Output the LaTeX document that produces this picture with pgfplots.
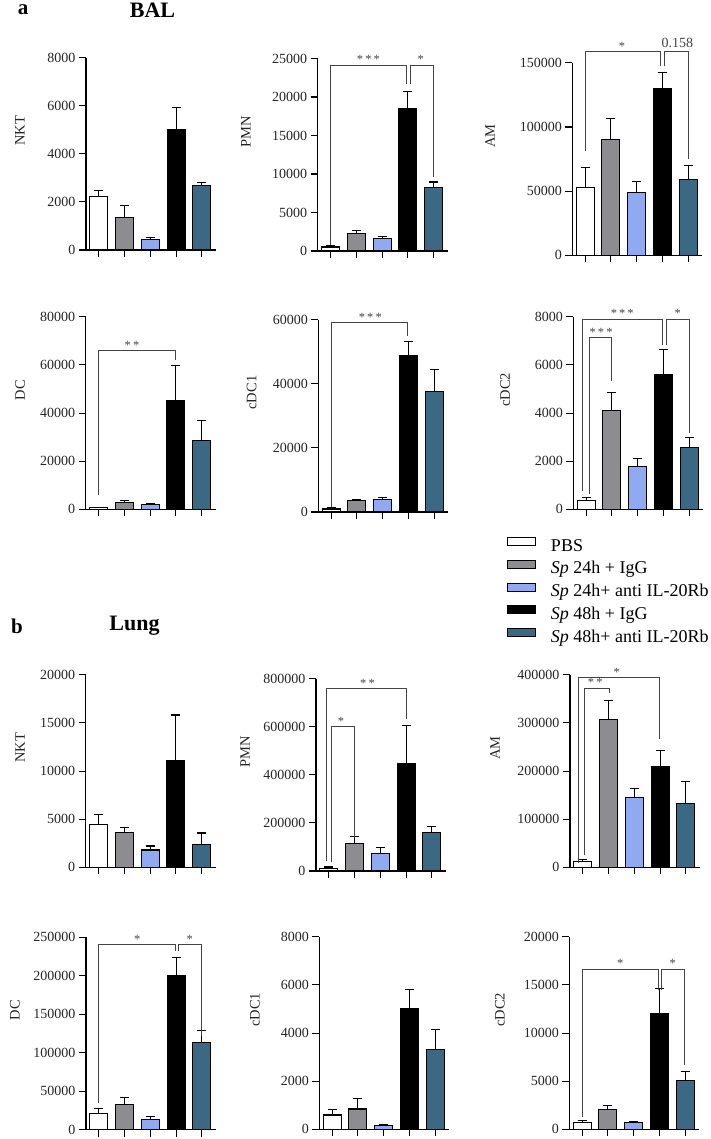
\documentclass[border=0pt]{standalone}
\usepackage{pgfplots}
\pgfplotsset{compat=1.18}
\usepackage{fontspec}
\setmainfont{Liberation Serif}

\definecolor{cgray}{HTML}{8C8C91}
\definecolor{cblue}{HTML}{8FAAF0}
\definecolor{cteal}{HTML}{3B6882}
\definecolor{cline}{HTML}{444444}

\pgfplotsset{
  bb/.style={ybar, bar width=18pt, draw=black, line width=1.1pt, fill=#1,
    error bars/y dir=plus, error bars/y explicit,
    error bars/error bar style={line width=1.1pt, black},
    error bars/error mark options={rotate=90, line width=1.1pt, black, mark size=4.5pt},
    legend image code/.code={\draw[line width=1pt, draw=black, fill=#1] (0pt,1.5pt) rectangle (28pt,9.5pt); \path (43pt,0pt);}},
  b0/.style={bb=white}, b1/.style={bb=cgray}, b2/.style={bb=cblue},
  b3/.style={bb=black}, b4/.style={bb=cteal},
  ax/.style={scale only axis, width=130pt, height=192.5pt, anchor=south west,
    xmin=-0.5, xmax=4.55, ymin=0, clip=false,
    axis x line*=bottom, axis y line*=left,
    xtick={0,...,4}, xticklabels={},
    tick align=outside, major tick length=7pt,
    every tick/.style={black, line width=1.1pt},
    axis line style={line width=1.1pt, black},
    ticklabel style={font=\fontsize{14}{16}\selectfont, text=black!85},
    scaled y ticks=false,
    yticklabel style={/pgf/number format/fixed, /pgf/number format/1000 sep={}},
    /pgf/number format/assume math mode=true,
    ylabel style={font=\fontsize{14.5}{16}\selectfont, text=black!85, anchor=center}},
  pn/.style n args={4}{ymax=#1, ytick distance=#2, ylabel={#3},
    ylabel style={at={(axis description cs:#4,0.62)}}},
}
\tikzset{
  brk/.style={draw=cline, line width=0.9pt},
  stars/.style={anchor=base, yshift=1.5pt, text=cline, font=\fontsize{12.5}{14}\selectfont},
}

\newcommand\bb[4]{\addplot[#1] coordinates {(#2,#3) +- (0,#4)};}
\newcommand\br[5]{\draw[brk] (#1,#2)--(#1,#5)--(#3,#5)--(#3,#4);}
\newcommand\st[3]{\node[stars] at (#1,#2) {#3};}

\begin{document}
\begin{tikzpicture}
\path[use as bounding box] (0pt,0pt) rectangle (711pt,-1139pt);

\node[anchor=base, font=\bfseries\fontsize{21}{24}\selectfont] at (23pt,-15pt) {a};
\node[anchor=base, font=\bfseries\fontsize{22}{24}\selectfont] at (152.5pt,-18pt) {BAL};
\node[anchor=base, font=\bfseries\fontsize{21}{24}\selectfont] at (17pt,-633pt) {b};
\node[anchor=base, font=\bfseries\fontsize{22}{24}\selectfont] at (134.5pt,-630pt) {Lung};

% ---- BAL, row 1
\begin{axis}[ax, at={(86pt,-250pt)}, pn={8000}{2000}{NKT}{-0.508}]
\bb{b0}{0}{2234}{233}
\bb{b1}{1}{1360}{483}
\bb{b2}{2}{429}{83}
\bb{b3}{3}{5005}{931}
\bb{b4}{4}{2662}{154}
\end{axis}

\begin{axis}[ax, at={(317.7pt,-251pt)}, pn={25000}{5000}{PMN}{-0.552}]
\bb{b0}{0}{517}{173}
\bb{b1}{1}{2240}{430}
\bb{b2}{2}{1590}{260}
\bb{b3}{3}{18494}{2236}
\bb{b4}{4}{8240}{720}
\br{0}{776}{2.96}{21690}{24150}
\br{3.09}{21690}{4.01}{9610}{24150}
\st{1.47}{24150}{*\,*\,*}
\st{3.5}{24150}{*}
\end{axis}

\begin{axis}[ax, at={(572.3pt,-255.3pt)}, pn={150000}{50000}{AM}{-0.633}]
\bb{b0}{0}{52800}{15600}
\bb{b1}{1}{90300}{16200}
\bb{b2}{2}{48900}{8600}
\bb{b3}{3}{129700}{12500}
\bb{b4}{4}{58800}{11200}
\br{0}{80900}{2.93}{147300}{158600}
\br{3.07}{147300}{4}{75000}{158600}
\st{1.43}{158600}{*}
\node[stars, font=\fontsize{14}{16}\selectfont, yshift=3pt] at (3.58,158600) {0.158};
\end{axis}

% ---- BAL, row 2
\begin{axis}[ax, at={(85.7pt,-509.3pt)}, pn={80000}{20000}{DC}{-0.505}]
\bb{b0}{0}{600}{200}
\bb{b1}{1}{2760}{830}
\bb{b2}{2}{2070}{130}
\bb{b3}{3}{45050}{14750}
\bb{b4}{4}{28600}{8300}
\br{0}{5940}{3}{62200}{65900}
\st{1.3}{65900}{*\,*}
\end{axis}

\begin{axis}[ax, at={(318.3pt,-512pt)}, pn={60000}{20000}{cDC1}{-0.512}]
\bb{b0}{0}{930}{320}
\bb{b1}{1}{3530}{410}
\bb{b2}{2}{3840}{620}
\bb{b3}{3}{48780}{4470}
\bb{b4}{4}{37470}{7060}
\br{0}{1450}{2.95}{55000}{59050}
\st{1.52}{59050}{*\,*\,*}
\end{axis}

\begin{axis}[ax, at={(573.3pt,-509.3pt)}, pn={8000}{2000}{cDC2}{-0.525},
  legend style={draw=none, fill=none, inner sep=0pt, anchor=north west,
    at={(-0.512,-0.144)}, font=\fontsize{18}{20}\selectfont,
    row sep=4.7pt, column sep=0pt,
    nodes={inner sep=0pt, text height=12pt, text depth=4pt}},
  legend cell align=left,
  legend entries={PBS, {\textit{Sp} 24h + IgG}, {\textit{Sp} 24h+ anti IL-20Rb},
    {\textit{Sp} 48h + IgG}, {\textit{Sp} 48h+ anti IL-20Rb}}]
\bb{b0}{0}{362}{111}
\bb{b1}{1}{4118}{737}
\bb{b2}{2}{1795}{320}
\bb{b3}{3}{5592}{1043}
\bb{b4}{4}{2587}{404}
\br{-0.13}{780}{2.97}{6815}{7900}
\br{0.13}{640}{1}{5342}{7123}
\br{3.11}{6815}{4.01}{3185}{7900}
\st{1.4}{7900}{*\,*\,*}
\st{0.58}{7123}{*\,*\,*}
\st{3.56}{7900}{*}
\end{axis}

% ---- Lung, row 1
\begin{axis}[ax, at={(85.7pt,-867.3pt)}, pn={20000}{5000}{NKT}{-0.505}]
\bb{b0}{0}{4456}{1004}
\bb{b1}{1}{3660}{520}
\bb{b2}{2}{1795}{415}
\bb{b3}{3}{11055}{4765}
\bb{b4}{4}{2385}{1175}
\end{axis}

\begin{axis}[ax, at={(316pt,-871pt)}, pn={800000}{200000}{PMN}{-0.546}]
\bb{b0}{0}{9700}{6900}
\bb{b1}{1}{115000}{27700}
\bb{b2}{2}{73500}{25000}
\bb{b3}{3}{448000}{156600}
\bb{b4}{4}{161000}{23400}
\br{-0.1}{43000}{3}{631000}{757000}
\br{0.09}{36000}{1}{136000}{599000}
\st{1.5}{757000}{*\,*}
\st{0.47}{599000}{*}
\end{axis}

\begin{axis}[ax, at={(570pt,-867.3pt)}, pn={400000}{100000}{AM}{-0.577}]
\bb{b0}{0}{12400}{3500}
\bb{b1}{1}{307400}{39400}
\bb{b2}{2}{145000}{18700}
\bb{b3}{3}{208600}{34500}
\bb{b4}{4}{133300}{44300}
\br{-0.17}{8300}{2.98}{266000}{393800}
\br{0.05}{24900}{1.04}{362000}{371600}
\st{1.32}{393800}{*}
\st{0.48}{371600}{*\,*}
\end{axis}

% ---- Lung, row 2
\begin{axis}[ax, at={(86pt,-1129.7pt)}, pn={250000}{50000}{DC}{-0.546}]
\bb{b0}{0}{20700}{6500}
\bb{b1}{1}{33200}{8300}
\bb{b2}{2}{13800}{3000}
\bb{b3}{3}{200800}{22400}
\bb{b4}{4}{112700}{16400}
\br{0}{34100}{2.96}{232700}{240000}
\br{3.09}{232700}{4}{121800}{240000}
\st{1.49}{240000}{*}
\st{3.53}{240000}{*}
\end{axis}

\begin{axis}[ax, at={(319.3pt,-1129.3pt)}, pn={8000}{2000}{cDC1}{-0.495}]
\bb{b0}{0}{595}{235}
\bb{b1}{1}{845}{428}
\bb{b2}{2}{166}{42}
\bb{b3}{3}{5037}{775}
\bb{b4}{4}{3335}{803}
\end{axis}

\begin{axis}[ax, at={(569.3pt,-1129.3pt)}, pn={20000}{5000}{cDC2}{-0.533}]
\bb{b0}{0}{733}{175}
\bb{b1}{1}{2024}{454}
\bb{b2}{2}{663}{175}
\bb{b3}{3}{12077}{2513}
\bb{b4}{4}{5096}{907}
\br{0}{1257}{2.96}{14520}{16617}
\br{3.09}{14520}{3.99}{6632}{16617}
\st{1.48}{16617}{*}
\st{3.52}{16617}{*}
\end{axis}
\end{tikzpicture}
\end{document}
